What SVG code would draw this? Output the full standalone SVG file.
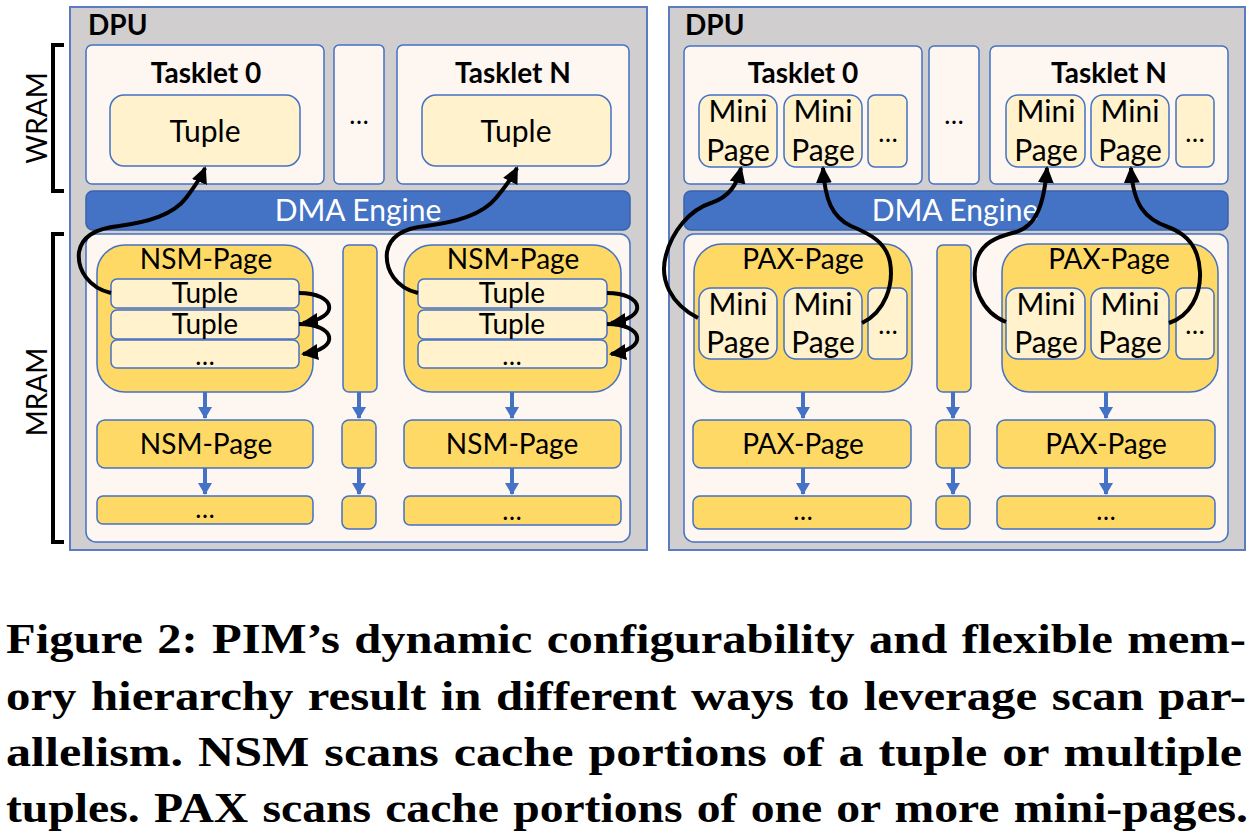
<svg xmlns="http://www.w3.org/2000/svg" width="1256" height="838" viewBox="0 0 1256 838">
<style>
.bg{fill:#ffffff}
.dpu{fill:#d0cece;stroke:#5b7cbf;stroke-width:2}
.pale{fill:#fdf6f1;stroke:#4472c4;stroke-width:1.5}
.lite{fill:#fff2cc;stroke:#4472c4;stroke-width:1.5}
.yel{fill:#ffd966;stroke:#4472c4;stroke-width:1.5}
.dma{fill:#4472c4;stroke:#3a62ad;stroke-width:1.5}
.t{font-family:Lato,"Open Sans",sans-serif;fill:#000;text-anchor:middle}
.b{font-weight:bold}
.s26{font-size:26px}.s28{font-size:28px}.s30{font-size:30px}
.w{fill:#fff}
.brk{fill:none;stroke:#000;stroke-width:4}
.cur{fill:none;stroke:#000;stroke-width:4}
.blu{fill:none;stroke:#4472c4;stroke-width:4}
.cap{font-family:"Liberation Serif","Times New Roman",serif;font-weight:bold;font-size:42px;fill:#000;word-spacing:2px}
</style>
<defs>
<marker id="ah" markerUnits="userSpaceOnUse" markerWidth="18" markerHeight="16" refX="15" refY="8" orient="auto"><path d="M0,0 L17,8 L0,16 z" fill="#000"/></marker>
<marker id="bh" markerUnits="userSpaceOnUse" markerWidth="14" markerHeight="14" refX="11" refY="7" orient="auto"><path d="M0,0 L12,7 L0,14 z" fill="#4472c4"/></marker>
</defs>
<rect class="bg" x="0" y="0" width="1256" height="838"/>

<g id="labels-left">
<path class="brk" d="M64,45 L53,45 L53,191 L64,191"/>
<text class="t s28" transform="translate(47,118) rotate(-90)">WRAM</text>
<path class="brk" d="M64,234 L53,234 L53,542 L64,542"/>
<text class="t s28" transform="translate(47,392) rotate(-90)">MRAM</text>
</g>

<g id="dpu-left">
<rect class="dpu" x="70" y="7" width="577" height="543"/>
<text class="t b s28" x="88" y="35" style="text-anchor:start">DPU</text>
</g>
<g id="tasklet0-left">
<rect class="pale" x="86" y="45" width="238" height="139" rx="6"/>
<text class="t b s28" x="206" y="83">Tasklet 0</text>
<rect class="lite" x="110" y="95" width="190" height="71" rx="14"/>
<text class="t s30" x="205" y="142">Tuple</text>
</g>
<g id="taskletdots-left">
<rect class="pale" x="334" y="45" width="50" height="139" rx="5"/>
<text class="t s26" x="359" y="124">…</text>
</g>
<g id="taskletN-left">
<rect class="pale" x="397" y="45" width="232" height="139" rx="6"/>
<text class="t b s28" x="513" y="83">Tasklet N</text>
<rect class="lite" x="422" y="95" width="189" height="71" rx="14"/>
<text class="t s30" x="516" y="142">Tuple</text>
</g>
<g id="dma-left">
<rect class="dma" x="86" y="191" width="544" height="39" rx="7"/>
<text class="t s30 w" x="358" y="221">DMA Engine</text>
</g>
<g id="mram-left">
<rect class="pale" x="86" y="234" width="544" height="308" rx="10"/>
</g>
<g id="nsm0">
<rect class="yel" x="97" y="245" width="216" height="147" rx="28"/>
<text class="t s28" x="206" y="269">NSM-Page</text>
<rect class="lite" x="111" y="279" width="188" height="29" rx="6"/>
<text class="t s28" x="205" y="303">Tuple</text>
<rect class="lite" x="111" y="310" width="188" height="29" rx="6"/>
<text class="t s28" x="205" y="334">Tuple</text>
<rect class="lite" x="111" y="340" width="188" height="28" rx="6"/>
<text class="t s26" x="205" y="365">…</text>
</g>
<g id="midbar-left">
<rect class="yel" x="343" y="245" width="34" height="147" rx="6"/>
<rect class="yel" x="342" y="420" width="34" height="48" rx="7"/>
<rect class="yel" x="342" y="496" width="34" height="33" rx="7"/>
</g>
<g id="nsmN">
<rect class="yel" x="404" y="245" width="217" height="147" rx="28"/>
<text class="t s28" x="513" y="269">NSM-Page</text>
<rect class="lite" x="418" y="279" width="189" height="29" rx="6"/>
<text class="t s28" x="512" y="303">Tuple</text>
<rect class="lite" x="418" y="310" width="189" height="29" rx="6"/>
<text class="t s28" x="512" y="334">Tuple</text>
<rect class="lite" x="418" y="340" width="189" height="28" rx="6"/>
<text class="t s26" x="512" y="365">…</text>
</g>
<g id="nsm0-row2">
<rect class="yel" x="97" y="420" width="216" height="48" rx="8"/>
<text class="t s28" x="206" y="454">NSM-Page</text>
</g>
<g id="nsmN-row2">
<rect class="yel" x="404" y="420" width="217" height="48" rx="8"/>
<text class="t s28" x="512" y="454">NSM-Page</text>
</g>
<g id="nsm0-row3">
<rect class="yel" x="97" y="496" width="216" height="28" rx="6"/>
<text class="t s26" x="205" y="518">…</text>
</g>
<g id="nsmN-row3">
<rect class="yel" x="404" y="496" width="217" height="29" rx="6"/>
<text class="t s26" x="512" y="520">…</text>
</g>

<g id="dpu-right">
<rect class="dpu" x="669" y="7" width="576" height="543"/>
<text class="t b s28" x="685" y="35" style="text-anchor:start">DPU</text>
</g>
<g id="tasklet0-right">
<rect class="pale" x="684" y="46" width="238" height="138" rx="6"/>
<text class="t b s28" x="803" y="83">Tasklet 0</text>
<rect class="lite" x="699" y="95" width="78" height="72" rx="12"/>
<text class="t s30" x="738" y="122">Mini</text>
<text class="t s30" x="738" y="161">Page</text>
<rect class="lite" x="784" y="95" width="78" height="72" rx="12"/>
<text class="t s30" x="823" y="122">Mini</text>
<text class="t s30" x="823" y="161">Page</text>
<rect class="lite" x="868" y="95" width="39" height="72" rx="7"/>
<text class="t s26" x="888" y="142">…</text>
</g>
<g id="taskletdots-right">
<rect class="pale" x="929" y="46" width="50" height="138" rx="5"/>
<text class="t s26" x="954" y="124">…</text>
</g>
<g id="taskletN-right">
<rect class="pale" x="990" y="46" width="238" height="138" rx="6"/>
<text class="t b s28" x="1109" y="83">Tasklet N</text>
<rect class="lite" x="1006" y="95" width="79" height="72" rx="12"/>
<text class="t s30" x="1046" y="122">Mini</text>
<text class="t s30" x="1046" y="161">Page</text>
<rect class="lite" x="1091" y="95" width="78" height="72" rx="12"/>
<text class="t s30" x="1130" y="122">Mini</text>
<text class="t s30" x="1130" y="161">Page</text>
<rect class="lite" x="1176" y="95" width="38" height="72" rx="7"/>
<text class="t s26" x="1195" y="142">…</text>
</g>
<g id="dma-right">
<rect class="dma" x="684" y="191" width="544" height="39" rx="7"/>
<text class="t s30 w" x="955" y="221">DMA Engine</text>
</g>
<g id="mram-right">
<rect class="pale" x="684" y="234" width="544" height="308" rx="10"/>
</g>
<g id="pax0">
<rect class="yel" x="694" y="244" width="218" height="148" rx="28"/>
<text class="t s28" x="803" y="269">PAX-Page</text>
<rect class="lite" x="699" y="288" width="78" height="71" rx="12"/>
<text class="t s30" x="738" y="315">Mini</text>
<text class="t s30" x="738" y="353">Page</text>
<rect class="lite" x="784" y="288" width="78" height="71" rx="12"/>
<text class="t s30" x="823" y="315">Mini</text>
<text class="t s30" x="823" y="353">Page</text>
<rect class="lite" x="868" y="288" width="39" height="71" rx="7"/>
<text class="t s26" x="888" y="334">…</text>
</g>
<g id="midbar-right">
<rect class="yel" x="937" y="245" width="34" height="147" rx="6"/>
<rect class="yel" x="936" y="420" width="34" height="48" rx="7"/>
<rect class="yel" x="936" y="496" width="34" height="33" rx="7"/>
</g>
<g id="paxN">
<rect class="yel" x="1002" y="244" width="216" height="148" rx="28"/>
<text class="t s28" x="1109" y="269">PAX-Page</text>
<rect class="lite" x="1006" y="288" width="79" height="71" rx="12"/>
<text class="t s30" x="1046" y="315">Mini</text>
<text class="t s30" x="1046" y="353">Page</text>
<rect class="lite" x="1091" y="288" width="78" height="71" rx="12"/>
<text class="t s30" x="1130" y="315">Mini</text>
<text class="t s30" x="1130" y="353">Page</text>
<rect class="lite" x="1176" y="288" width="38" height="71" rx="7"/>
<text class="t s26" x="1195" y="334">…</text>
</g>
<g id="pax0-row2">
<rect class="yel" x="693" y="420" width="218" height="48" rx="8"/>
<text class="t s28" x="803" y="454">PAX-Page</text>
</g>
<g id="paxN-row2">
<rect class="yel" x="997" y="420" width="218" height="48" rx="8"/>
<text class="t s28" x="1106" y="454">PAX-Page</text>
</g>
<g id="pax0-row3">
<rect class="yel" x="693" y="496" width="218" height="33" rx="7"/>
<text class="t s26" x="803" y="520">…</text>
</g>
<g id="paxN-row3">
<rect class="yel" x="997" y="496" width="218" height="33" rx="7"/>
<text class="t s26" x="1106" y="520">…</text>
</g>

<g id="connectors">
<path class="blu" marker-end="url(#bh)" d="M205,392 L205,418"/>
<path class="blu" marker-end="url(#bh)" d="M205,468 L205,494"/>
<path class="blu" marker-end="url(#bh)" d="M359,392 L359,418"/>
<path class="blu" marker-end="url(#bh)" d="M359,468 L359,494"/>
<path class="blu" marker-end="url(#bh)" d="M512,392 L512,418"/>
<path class="blu" marker-end="url(#bh)" d="M512,468 L512,494"/>
<path class="blu" marker-end="url(#bh)" d="M803,392 L803,418"/>
<path class="blu" marker-end="url(#bh)" d="M803,468 L803,494"/>
<path class="blu" marker-end="url(#bh)" d="M953,392 L953,418"/>
<path class="blu" marker-end="url(#bh)" d="M953,468 L953,494"/>
<path class="blu" marker-end="url(#bh)" d="M1106,392 L1106,418"/>
<path class="blu" marker-end="url(#bh)" d="M1106,468 L1106,494"/>

<path class="cur" marker-end="url(#ah)" d="M111,293 C89,288 77,270 79,252 C82,235 99,228 119,226 C148,222 173,215 186,198 C195,186 201,178 205,168"/>
<path class="cur" marker-end="url(#ah)" d="M418,293 C396,288 385,270 387,252 C390,235 406,228 426,226 C456,222 482,215 496,198 C506,186 512,178 517,168"/>
<path class="cur" marker-end="url(#ah)" d="M299,293 C336,293 341,318 303,323"/>
<path class="cur" marker-end="url(#ah)" d="M299,324 C336,324 341,349 303,354"/>
<path class="cur" marker-end="url(#ah)" d="M607,293 C644,293 649,318 611,323"/>
<path class="cur" marker-end="url(#ah)" d="M607,324 C644,324 649,349 611,354"/>

<path class="cur" marker-end="url(#ah)" d="M698,318 C671,304 659,280 666,255 C672,232 689,210 711,203 C729,197 737,185 741,168"/>
<path class="cur" marker-end="url(#ah)" d="M862,323 C885,312 894,285 890,262 C886,242 870,234 851,226 C832,217 825,200 823,168"/>
<path class="cur" marker-end="url(#ah)" d="M1006,322 C981,312 971,285 976,262 C981,243 996,237 1016,232 C1036,226 1044,205 1047,168"/>
<path class="cur" marker-end="url(#ah)" d="M1169,323 C1190,316 1201,295 1200,272 C1199,250 1190,235 1168,227 C1145,219 1133,205 1131,168"/>
</g>

<g id="caption">
<text class="cap" x="6" y="653" textLength="1240" lengthAdjust="spacingAndGlyphs">Figure 2: PIM’s dynamic configurability and flexible mem-</text>
<text class="cap" x="6" y="710" textLength="1240" lengthAdjust="spacingAndGlyphs">ory hierarchy result in different ways to leverage scan par-</text>
<text class="cap" x="6" y="766" textLength="1236" lengthAdjust="spacingAndGlyphs">allelism. NSM scans cache portions of a tuple or multiple</text>
<text class="cap" x="6" y="822" textLength="1242" lengthAdjust="spacingAndGlyphs">tuples. PAX scans cache portions of one or more mini-pages.</text>
</g>
</svg>
